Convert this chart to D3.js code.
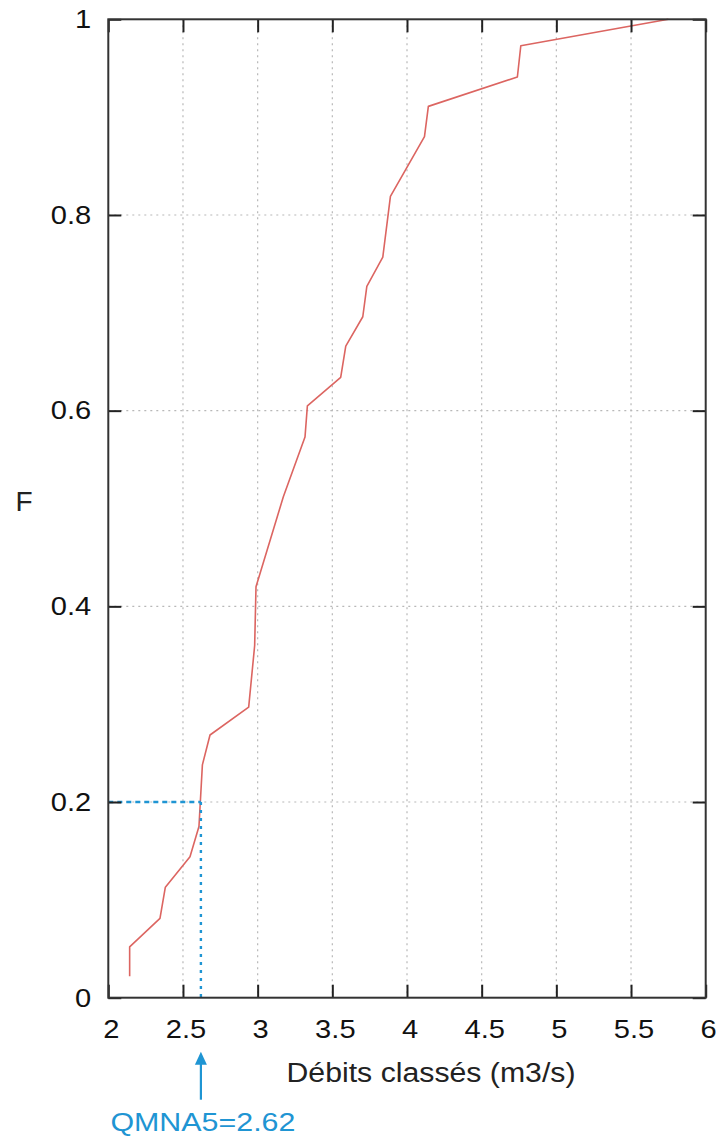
<!DOCTYPE html>
<html><head><meta charset="utf-8">
<script src="https://cdn.jsdelivr.net/npm/d3@7"></script>
<style>body{margin:0;background:#fff}svg{display:block}</style>
</head><body><svg id="c" width="722" height="1140"></svg>
<script>
// ---- data ----
const debits = [2.143, 2.143, 2.346, 2.382, 2.547, 2.607, 2.63, 2.681, 2.94, 2.98, 2.989, 3.172, 3.317, 3.333, 3.556, 3.59, 3.704, 3.731, 3.838, 3.889, 4.117, 4.143, 4.739, 4.762, 5.75];
const freq   = [0.022, 0.052, 0.081, 0.113, 0.144, 0.175, 0.238, 0.2685, 0.297, 0.36, 0.42, 0.512, 0.573, 0.605, 0.634, 0.666, 0.696, 0.727, 0.757, 0.819, 0.88, 0.911, 0.941, 0.973, 1.0];
const xTicks = [2, 2.5, 3, 3.5, 4, 4.5, 5, 5.5, 6];
const xTickLabels = ["2", "2.5", "3", "3.5", "4", "4.5", "5", "5.5", "6"];
const yTicks = [0, 0.2, 0.4, 0.6, 0.8, 1];
const yTickLabels = ["0", "0.2", "0.4", "0.6", "0.8", "1"];
const qmna5 = 2.62;
const qmnaF = 0.2;
const xTitle = "Débits classés (m3/s)";
const yTitle = "F";
const annotText = "QMNA5=2.62";

// ---- layout ----
const W = 722, H = 1140;
const m = {top: 19.3, right: 16.3, bottom: 142.3, left: 108.3};
const x = d3.scaleLinear().domain([2, 6]).range([m.left, W - m.right]);
const y = d3.scaleLinear().domain([0, 1]).range([H - m.bottom, m.top]);
const svg = d3.select("#c");
const FONT = "'Liberation Sans', Arial, Helvetica, sans-serif";
const SX = 1.12;
const blue = "#1f95d3";
const red = "#dc6561";

// grid
const grid = svg.append("g").attr("stroke", "#b8b8b8").attr("stroke-width", 1.2).attr("stroke-dasharray", "2,4");
grid.selectAll("line.v").data(xTicks.slice(1, -1)).join("line")
  .attr("x1", d => x(d)).attr("x2", d => x(d)).attr("y1", y(1)).attr("y2", y(0));
grid.selectAll("line.h").data(yTicks.slice(1, -1)).join("line")
  .attr("x1", x(2)).attr("x2", x(6)).attr("y1", d => y(d)).attr("y2", d => y(d));

// curve
const line = d3.line().x(d => x(d[0])).y(d => y(d[1]));
svg.append("path").datum(debits.map((d, i) => [d, freq[i]]))
  .attr("d", line).attr("fill", "none").attr("stroke", red).attr("stroke-width", 1.6)
  .attr("stroke-linejoin", "round");

// QMNA5 guide lines
svg.append("line").attr("x1", x(2)).attr("x2", x(qmna5)).attr("y1", y(qmnaF)).attr("y2", y(qmnaF))
  .attr("stroke", blue).attr("stroke-width", 2.4).attr("stroke-dasharray", "5,4");
svg.append("line").attr("x1", x(qmna5)).attr("x2", x(qmna5)).attr("y1", y(qmnaF)).attr("y2", y(0))
  .attr("stroke", blue).attr("stroke-width", 2.4).attr("stroke-dasharray", "3,5");

// axes
function styleAxis(g) {
  g.select(".domain").remove();
  g.selectAll(".tick line").attr("stroke", "#222").attr("stroke-width", 2);
}
const gx = svg.append("g").attr("transform", `translate(0,${y(0)})`)
  .call(d3.axisBottom(x).tickValues(xTicks).tickFormat((d, i) => xTickLabels[i]).tickSizeInner(-13).tickSizeOuter(0).tickPadding(21.5));
styleAxis(gx);
gx.selectAll(".tick text").attr("font-family", FONT).attr("font-size", 26).attr("fill", "#111")
  .attr("x", 2.5 / SX).attr("transform", `scale(${SX},1)`);

const gt = svg.append("g").attr("transform", `translate(0,${y(1)})`)
  .call(d3.axisTop(x).tickValues(xTicks).tickFormat("").tickSizeInner(-13).tickSizeOuter(0));
styleAxis(gt);

const gy = svg.append("g").attr("transform", `translate(${x(2)},0)`)
  .call(d3.axisLeft(y).tickValues(yTicks).tickFormat((d, i) => yTickLabels[i]).tickSizeInner(-13).tickSizeOuter(0).tickPadding(18));
styleAxis(gy);
gy.selectAll(".tick text").attr("font-family", FONT).attr("font-size", 26).attr("fill", "#111")
  .attr("x", -17 / SX).attr("transform", `scale(${SX},1)`);

const gr = svg.append("g").attr("transform", `translate(${x(6)},0)`)
  .call(d3.axisRight(y).tickValues(yTicks).tickFormat("").tickSizeInner(-13).tickSizeOuter(0));
styleAxis(gr);

// frame
svg.append("rect").attr("x", x(2)).attr("y", y(1)).attr("width", x(6) - x(2)).attr("height", y(0) - y(1))
  .attr("fill", "none").attr("stroke", "#333").attr("stroke-width", 2);

// titles
svg.append("text").attr("transform", `translate(${(x(2) + x(6)) / 2 + 24},${y(0) + 84}) scale(${SX},1)`)
  .attr("text-anchor", "middle").attr("font-family", FONT).attr("font-size", 27).attr("fill", "#222").text(xTitle);
svg.append("text").attr("x", 24).attr("y", (y(0) + y(1)) / 2 + 2.5)
  .attr("text-anchor", "middle").attr("font-family", FONT).attr("font-size", 28).attr("fill", "#222").text(yTitle);

// annotation arrow + label
const ax = x(qmna5);
svg.append("line").attr("x1", ax).attr("x2", ax).attr("y1", y(0) + 102).attr("y2", y(0) + 62)
  .attr("stroke", blue).attr("stroke-width", 2.2);
svg.append("path").attr("d", `M${ax},${y(0) + 54} L${ax - 6},${y(0) + 67} L${ax + 6},${y(0) + 67} Z`).attr("fill", blue);
svg.append("text").attr("transform", `translate(${ax + 2},${y(0) + 133}) scale(1.17,1)`)
  .attr("text-anchor", "middle").attr("font-family", FONT).attr("font-size", 26).attr("fill", blue).text(annotText);
</script></body></html>
